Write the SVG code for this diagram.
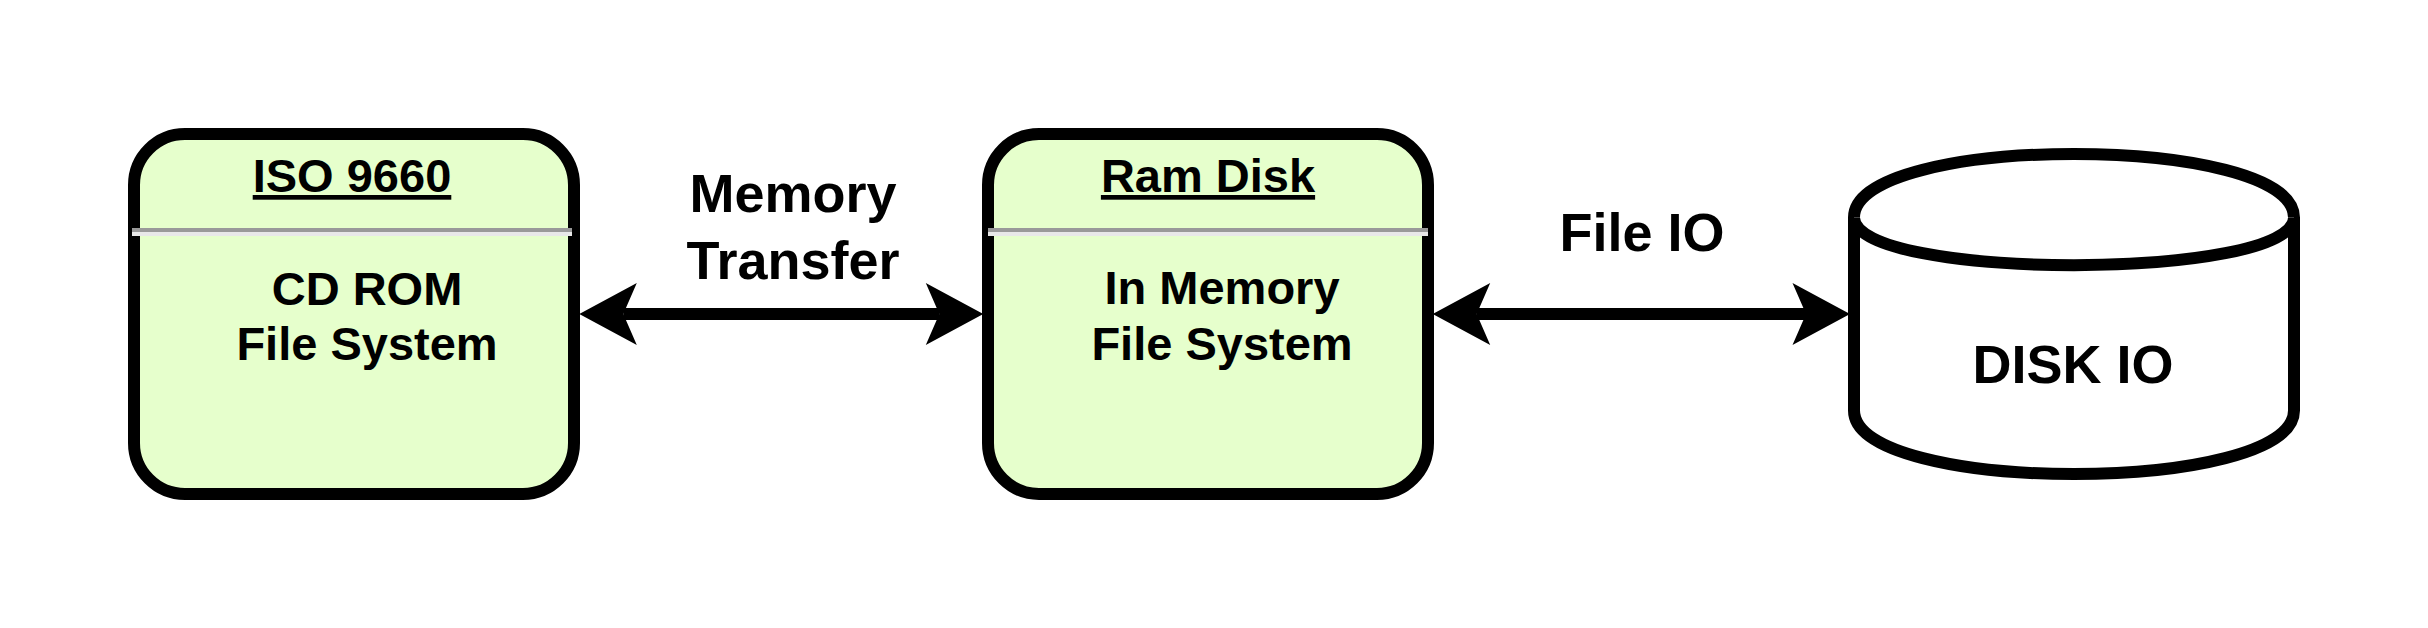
<svg xmlns="http://www.w3.org/2000/svg" width="2428" height="628" viewBox="0 0 2428 628">
<style>
.box{fill:#e6ffcc;stroke:#000;stroke-width:12}
.cyl{fill:#fff;stroke:#000;stroke-width:12;stroke-linejoin:round}
.sepd{fill:#999999}
.sepl{fill:#e8e8e8}
text{font-family:"Liberation Sans",Arial,Helvetica,sans-serif;font-weight:bold;fill:#000;text-anchor:middle}
.t{font-size:47px}
.l{font-size:54px}
.ttl{text-decoration:underline}
.edge{stroke:#000;stroke-width:12;fill:none;marker-start:url(#ah);marker-end:url(#ah)}
</style>
<defs>
<marker id="ah" markerUnits="userSpaceOnUse" markerWidth="58" markerHeight="64" viewBox="0 -32 58 64" refX="13.5" refY="0" orient="auto-start-reverse" overflow="visible">
<path d="M0,-31 L57.5,0 L0,31 L13.5,0 Z" fill="#000"/>
</marker>
</defs>
<rect width="2428" height="628" fill="#fff"/>
<g id="connectors">
<path class="edge" d="M623.3,314 L939.3,314"/>
<path class="edge" d="M1476.7,314 L1806,314"/>
<text class="l" x="793" y="212">Memory</text>
<text class="l" x="793" y="279">Transfer</text>
<text class="l" x="1642" y="251">File IO</text>
</g>
<g id="iso9660">
<rect class="box" x="134" y="134" width="440" height="360" rx="51" ry="51"/>
<rect class="sepd" x="132" y="228" width="440" height="4"/>
<rect class="sepl" x="132" y="232" width="440" height="4"/>
<text class="t ttl" x="352" y="192">ISO 9660</text>
<text class="t" x="367" y="305">CD ROM</text>
<text class="t" x="367" y="360">File System</text>
</g>
<g id="ramdisk">
<rect class="box" x="988" y="134" width="440" height="360" rx="51" ry="51"/>
<rect class="sepd" x="988" y="228" width="440" height="4"/>
<rect class="sepl" x="988" y="232" width="440" height="4"/>
<text class="t ttl" x="1208" y="192">Ram Disk</text>
<text class="t" x="1222" y="304">In Memory</text>
<text class="t" x="1222" y="359.5">File System</text>
</g>
<g id="diskio">
<path class="cyl" d="M1854,217.5 C1854,132.8 2294,132.8 2294,217.5 L2294,410.5 C2294,495.2 1854,495.2 1854,410.5 Z"/>
<path class="cyl" fill="none" d="M1854,217.5 C1854,281 2294,281 2294,217.5"/>
<text class="l" x="2073" y="383">DISK IO</text>
</g>
</svg>
